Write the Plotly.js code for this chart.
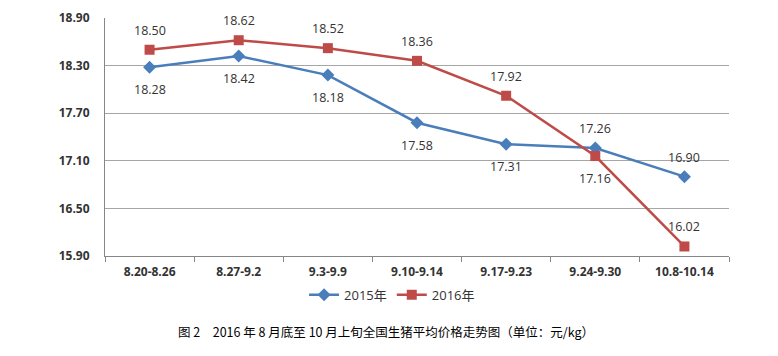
<!DOCTYPE html>
<html><head><meta charset="utf-8">
<script src="https://cdn.plot.ly/plotly-3.0.1.min.js"></script>
<style>body{margin:0;background:#fff}#c{width:778px;height:356px}</style>
</head><body><div id="c"></div>
<script>
const categories = ["8.20-8.26","8.27-9.2","9.3-9.9","9.10-9.14","9.17-9.23","9.24-9.30","10.8-10.14"];
const y2015 = [18.28,18.42,18.18,17.58,17.31,17.26,16.90];
const y2016 = [18.50,18.62,18.52,18.36,17.92,17.16,16.02];
const pos2015 = ["below","below","below","below","below","above","above"];
const pos2016 = ["above","above","above","above","above","below","above"];
const yTicks = [15.9,16.5,17.1,17.7,18.3,18.9];
const caption = "图 2　2016 年 8 月底至 10 月上旬全国生猪平均价格走势图（单位：元/kg）";

const lblFont = {family:"Open Sans, Noto Sans, sans-serif", size:12.5, color:"#333"};
const traces = [
 {x:categories,y:y2015,name:"2015年",type:"scatter",mode:"lines+markers",
  line:{color:"#4A7EBB",width:2.5},marker:{symbol:"diamond",size:10,color:"#4A7EBB"},cliponaxis:false},
 {x:categories,y:y2016,name:"2016年",type:"scatter",mode:"lines+markers",
  line:{color:"#BE4B48",width:2.5},marker:{symbol:"square",size:10,color:"#BE4B48"},cliponaxis:false}
];
function labels(vals,pos){
  return vals.map((v,i)=>({x:categories[i],y:v,xref:"x",yref:"y",text:v.toFixed(2),showarrow:false,
    font:lblFont,xanchor:"center",yanchor:pos[i]==="above"?"bottom":"top",yshift:pos[i]==="above"?9:-12}));
}
const layout = {
 width:778,height:356,margin:{l:105,r:49,t:18,b:100},
 paper_bgcolor:"#fff",plot_bgcolor:"#fff",showlegend:true,
 font:{family:"Open Sans, Noto Sans CJK SC, sans-serif",color:"#333"},
 xaxis:{type:"category",range:[-0.5,6.5],tickson:"boundaries",ticks:"outside",ticklen:5,tickcolor:"#868686",
   showline:true,linecolor:"#868686",linewidth:1,showgrid:false,ticklabelstandoff:5,
   tickfont:{family:"Open Sans, sans-serif",size:12,color:"#333",weight:"bold"},fixedrange:true},
 yaxis:{range:[15.9,18.9],tickvals:yTicks,ticktext:yTicks.map(v=>v.toFixed(2)),
   showline:true,linecolor:"#868686",showgrid:true,gridcolor:"#A6A6A6",gridwidth:1,
   zeroline:false,ticks:"",ticklen:0,ticklabelstandoff:12,
   tickfont:{family:"Open Sans, sans-serif",size:12,color:"#333",weight:"bold"},fixedrange:true},
 legend:{orientation:"h",x:0.46,xanchor:"center",y:-0.1,yanchor:"top",
   font:{family:"Open Sans, Noto Sans CJK SC, sans-serif",size:13,color:"#333"},traceorder:"normal"},
 annotations:labels(y2015,pos2015).concat(labels(y2016,pos2016)).concat([
  {text:caption,xref:"paper",yref:"paper",x:0.45,y:-0.27,xanchor:"center",yanchor:"top",
   showarrow:false,font:{family:"Noto Sans CJK SC, sans-serif",size:12.5,color:"#000"}}])
};
Plotly.newPlot("c",traces,layout,{displayModeBar:false,staticPlot:true});
</script></body></html>
